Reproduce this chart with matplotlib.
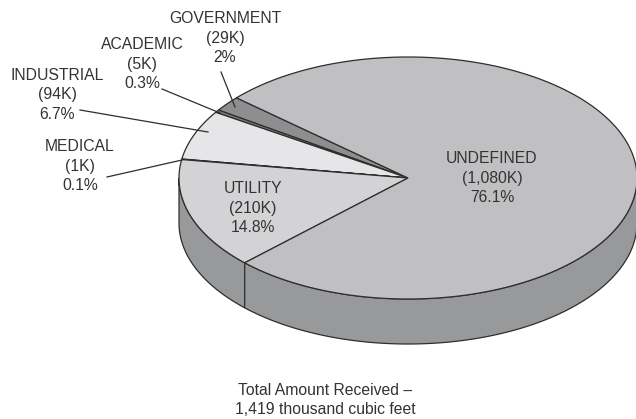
import numpy as np
import matplotlib
matplotlib.use("Agg")
import matplotlib.pyplot as plt

# ---- data ----
categories = ["GOVERNMENT", "ACADEMIC", "INDUSTRIAL", "MEDICAL", "UTILITY", "UNDEFINED"]
values_k = [29, 5, 94, 1, 210, 1080]
value_labels = ["(29K)", "(5K)", "(94K)", "(1K)", "(210K)", "(1,080K)"]
pct_labels = ["2%", "0.3%", "6.7%", "0.1%", "14.8%", "76.1%"]
total_label = "Total Amount Received \u2013\n1,419 thousand cubic feet"

# ---- style ----
top_colors = ["#8e8e90", "#7a7a7c", "#e6e6e8", "#a0a0a2", "#d3d3d5", "#c0c0c2"]
side_colors = ["#7a7a7c", "#6a6a6c", "#b4b4b6", "#8a8a8c", "#98999b", "#98999b"]
edge = "#2e2e2e"
txt = "#333333"

plt.rcParams['font.family'] = ['Liberation Sans', 'DejaVu Sans']

fig = plt.figure(figsize=(6.36, 4.19), dpi=100)
ax = fig.add_axes([0, 0, 1, 1])
ax.set_xlim(0, 636)
ax.set_ylim(419, 0)
ax.axis('off')

cx, cy, a, b, depth = 408, 178, 229, 121, 45
start = 138.5

vals = np.array(values_k, dtype=float)
spans = vals / vals.sum() * 360.0
bounds = start + np.concatenate([[0], np.cumsum(spans)])

def ex(t):
    return cx + a * np.cos(np.radians(t))

def ey(t):
    return cy - b * np.sin(np.radians(t))

# side walls (front half: angles 180..360)
for i in range(len(vals)):
    t0, t1 = bounds[i], bounds[i + 1]
    lo, hi = max(t0, 180), min(t1, 360)
    if hi > lo:
        t = np.linspace(lo, hi, 200)
        xs = np.concatenate([ex(t), ex(t[::-1])])
        ys = np.concatenate([ey(t), ey(t[::-1]) + depth])
        ax.fill(xs, ys, facecolor=side_colors[i], edgecolor=edge, linewidth=0.9, zorder=1)

# top face wedges
for i in range(len(vals)):
    t = np.linspace(bounds[i], bounds[i + 1], max(3, int(spans[i] * 3)))
    xs = np.concatenate([[cx], ex(t), [cx]])
    ys = np.concatenate([[cy], ey(t), [cy]])
    ax.fill(xs, ys, facecolor=top_colors[i], edgecolor=edge, linewidth=0.9,
            joinstyle='miter', zorder=2)

fs = 11.3
ls = 1.4
ax.text(492, 178, f"{categories[5]}\n{value_labels[5]}\n{pct_labels[5]}", ha='center', va='center',
        fontsize=fs, color=txt, linespacing=ls, zorder=5)
ax.text(253, 208, f"{categories[4]}\n{value_labels[4]}\n{pct_labels[4]}", ha='center', va='center',
        fontsize=fs, color=txt, linespacing=ls, zorder=5)

outside = {
    0: ((225, 38), (221, 72), (235, 107)),
    1: ((142, 64), (162, 89), (220, 113)),
    2: ((57, 95), (80, 110), (208, 132)),
    3: ((80, 166), (107, 177), (182, 160)),
}
for i, (pos, p0, p1) in outside.items():
    ax.text(pos[0], pos[1], f"{categories[i]}\n{value_labels[i]}\n{pct_labels[i]}", ha='center',
            va='center', fontsize=fs, color=txt, linespacing=ls, zorder=5)
    ax.plot([p0[0], p1[0]], [p0[1], p1[1]], color=edge, linewidth=0.9, zorder=4)

ax.text(325, 400, total_label, ha='center', va='center', fontsize=fs, color=txt,
        linespacing=ls, zorder=5)

fig.savefig("out.png", dpi=100)
